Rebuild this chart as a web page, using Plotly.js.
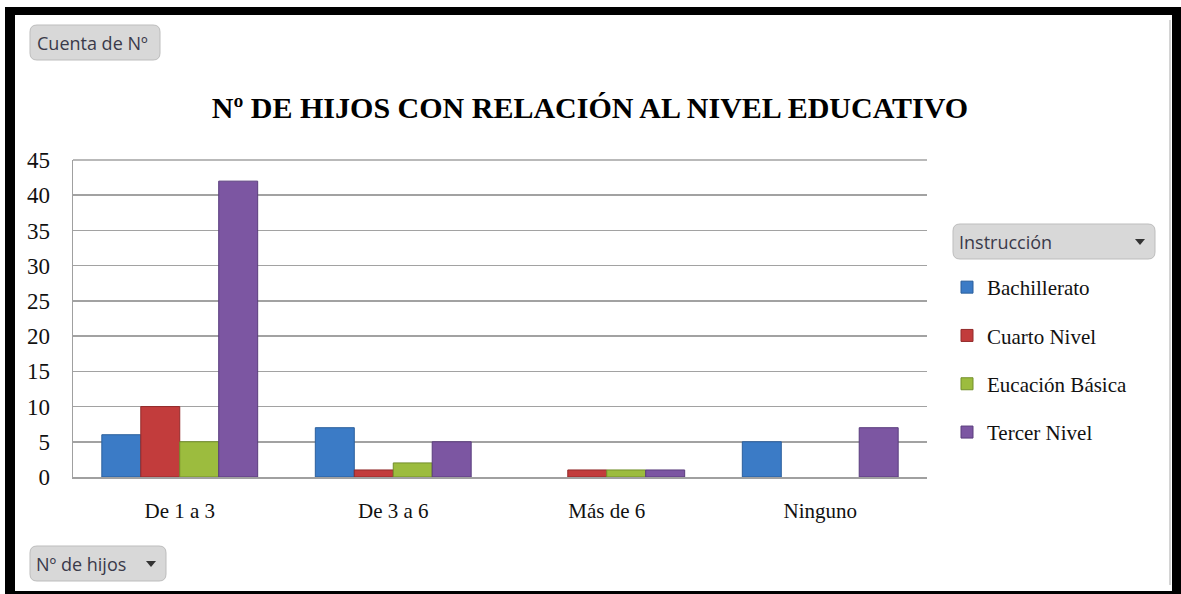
<!DOCTYPE html>
<html>
<head>
<meta charset="utf-8">
<script src="https://cdn.plot.ly/plotly-3.0.1.min.js"></script>
<style>html,body{margin:0;padding:0;background:#fff;}#chart{width:1181px;height:594px;}</style>
</head>
<body>
<div id="chart"></div>
<script>
// ---- data ----
const categories = ["De 1 a 3", "De 3 a 6", "Más de 6", "Ninguno"];
const seriesNames = ["Bachillerato", "Cuarto Nivel", "Eucación Básica", "Tercer Nivel"];
const bachillerato = [6, 7, 0, 5];
const cuartoNivel = [10, 1, 1, 0];
const educacionBasica = [5, 2, 1, 0];
const tercerNivel = [42, 5, 1, 7];
const yTicks = [0, 5, 10, 15, 20, 25, 30, 35, 40, 45];
const chartTitle = "Nº DE HIJOS CON RELACIÓN AL NIVEL EDUCATIVO";

// ---- styling ----
const colors = ["#3b7bc6", "#c23c3c", "#9cbc3e", "#7c56a2"];
const edgeColors = ["#2b5f9c", "#922a2a", "#738f2b", "#5a3d7d"];
const W = 1181, H = 594, L = 73, R = 927, T = 160, B = 477;
const px = x => (x - L) / (R - L);
const py = y => (B - y) / (B - T);

const values = [bachillerato, cuartoNivel, educacionBasica, tercerNivel];
const traces = values.map((v, i) => ({
  type: "bar",
  name: seriesNames[i],
  x: categories,
  y: v,
  legendgroup: "g" + i,
  marker: {color: colors[i], line: {color: edgeColors[i], width: v.map(d => d > 0 ? 1 : 0)}},
  hoverinfo: "x+y+name"
}));

function rr(x0, y0, x1, y1, r) {
  const P = (x, y) => px(x) + "," + py(y);
  return "M" + P(x0 + r, y0) + " L" + P(x1 - r, y0) + " Q" + P(x1, y0) + " " + P(x1, y0 + r) +
    " L" + P(x1, y1 - r) + " Q" + P(x1, y1) + " " + P(x1 - r, y1) +
    " L" + P(x0 + r, y1) + " Q" + P(x0, y1) + " " + P(x0, y1 - r) +
    " L" + P(x0, y0 + r) + " Q" + P(x0, y0) + " " + P(x0 + r, y0) + " Z";
}
function blackRect(x0, y0, x1, y1) {
  return {type: "rect", xref: "paper", yref: "paper", x0: px(x0), x1: px(x1), y0: py(y0), y1: py(y1),
    fillcolor: "#000", line: {width: 0}, layer: "above"};
}
function button(x0, y0, x1, y1) {
  return {type: "path", xref: "paper", yref: "paper", path: rr(x0, y0, x1, y1, 7),
    fillcolor: "#d8d8d8", line: {color: "#bdbdbd", width: 1}, layer: "above"};
}
function tri(cx, cy) {
  const P = (x, y) => px(x) + "," + py(y);
  return {type: "path", xref: "paper", yref: "paper",
    path: "M" + P(cx - 5, cy - 3) + " L" + P(cx + 5, cy - 3) + " L" + P(cx, cy + 3) + " Z",
    fillcolor: "#333", line: {width: 0}, layer: "above"};
}
const btnFont = {family: "Open Sans, Liberation Sans, sans-serif", size: 18, color: "#3a3a4a"};
function label(text, x, y) {
  return {text: text, xref: "paper", yref: "paper", x: px(x), y: py(y), xanchor: "left", yanchor: "middle",
    showarrow: false, font: btnFont};
}

const layout = {
  width: W, height: H,
  margin: {l: L, r: W - R, t: T, b: H - B, pad: 0},
  paper_bgcolor: "#ffffff",
  plot_bgcolor: "#ffffff",
  title: {
    text: "<b>" + chartTitle + "</b>",
    xref: "container", yref: "container", x: 590 / W, y: 1 - 107 / H,
    xanchor: "center", yanchor: "middle",
    font: {family: "Liberation Serif, serif", size: 30, color: "#000"}
  },
  barmode: "group",
  bargap: 0.27,
  bargroupgap: 0,
  xaxis: {
    type: "category",
    showgrid: false,
    showline: true, linecolor: "#a0a0a0", linewidth: 1.5,
    ticks: "", ticklabelstandoff: 14,
    tickfont: {family: "Liberation Serif, serif", size: 21, color: "#111"}
  },
  yaxis: {
    range: [0, 45], tickvals: yTicks, ticktext: yTicks.map(String),
    showgrid: true, gridcolor: "#a2a2a2", gridwidth: 1.5,
    zeroline: false,
    showline: true, linecolor: "#a0a0a0", linewidth: 1.5,
    ticks: "", ticklabelstandoff: 17,
    tickfont: {family: "Liberation Serif, serif", size: 23, color: "#111"}
  },
  showlegend: true,
  legend: {
    xref: "container", yref: "container",
    x: 947 / W, y: 1 - 267 / H, xanchor: "left", yanchor: "top",
    font: {family: "Liberation Serif, serif", size: 21, color: "#111"},
    tracegroupgap: 18,
    itemwidth: 30,
    bgcolor: "rgba(0,0,0,0)"
  },
  shapes: [
    {type: "line", xref: "paper", yref: "paper", x0: 0, x1: 1, y0: 1, y1: 1,
      line: {color: "#a2a2a2", width: 1.5}},
    button(30, 25, 160, 60),
    button(953, 224, 1155, 259),
    tri(1140, 242),
    button(30, 546, 166, 581),
    tri(151, 564),
    {type: "line", xref: "paper", yref: "paper", x0: px(1170), x1: px(1170), y0: py(20), y1: py(585),
      line: {color: "#d4d4d4", width: 2}},
    blackRect(5, 7, 1181, 15),
    blackRect(5, 7, 15, 594),
    blackRect(1172, 7, 1181, 594),
    blackRect(5, 591, 1181, 594)
  ],
  annotations: [
    label("Cuenta de Nº", 35, 43),
    label("Instrucción", 957, 242),
    label("Nº de hijos", 34, 564)
  ]
};

Plotly.newPlot("chart", traces, layout, {displayModeBar: false, staticPlot: true});
</script>
</body>
</html>
